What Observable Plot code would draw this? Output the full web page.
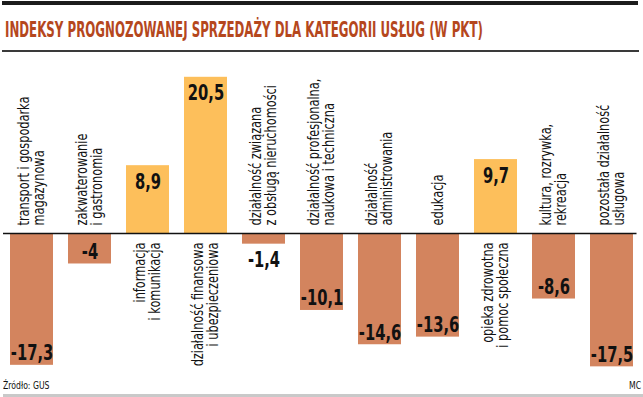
<!DOCTYPE html>
<html>
<head>
<meta charset="utf-8">
<script src="https://cdn.jsdelivr.net/npm/d3@7"></script>
<script src="https://cdn.jsdelivr.net/npm/@observablehq/plot@0.6"></script>
<style>
  html, body { margin: 0; padding: 0; background: #fff; }
  body { width: 643px; height: 397px; position: relative; overflow: hidden;
         font-family: "Liberation Sans Narrow", "DejaVu Sans Condensed", "Liberation Sans", sans-serif; }
  .abs { position: absolute; }
  #topline { left: 2px; top: 1px; width: 636px; height: 4px; background: #1c1c1c; }
  #midline { left: 2px; top: 50px; width: 637px; height: 2px; background: #3a3a3a; }
  #botline { left: 3px; top: 394px; width: 640px; height: 3px; background: #c9c9c9; }
  #title { left: 5px; top: 19px; font-size: 22px; line-height: 22px; font-weight: bold; color: #b5471d;
           white-space: nowrap; transform-origin: 0 0; }
  #chart { left: 0; top: 52px; }
  .foot { position: absolute; top: 380px; font-size: 10px; line-height: 12px; color: #111;
          white-space: nowrap; }
  #source { left: 3px; transform-origin: 0 0; transform: scaleX(0.86); }
  #author { right: 2px; transform-origin: 100% 0; transform: scaleX(0.86); }
</style>
</head>
<body>
<div id="topline" class="abs"></div>
<div id="title" class="abs">INDEKSY PROGNOZOWANEJ SPRZEDAŻY DLA KATEGORII USŁUG (W PKT)</div>
<div id="midline" class="abs"></div>
<div id="chart" class="abs"></div>
<div id="source" class="foot">Źródło: GUS</div>
<div id="author" class="foot">MC</div>
<div id="botline" class="abs"></div>
<script>
const categories = [
  "transport i gospodarka\nmagazynowa",
  "zakwaterowanie\ni gastronomia",
  "informacja\ni komunikacja",
  "działalność finansowa\ni ubezpieczeniowa",
  "działalność związana\nz obsługą nieruchomości",
  "działalność profesjonalna,\nnaukowa i techniczna",
  "działalność\nadministrowania",
  "edukacja",
  "opieka zdrowotna\ni pomoc społeczna",
  "kultura, rozrywka,\nrekreacja",
  "pozostała działalność\nusługowa"
];
const values = [-17.3, -4, 8.9, 20.5, -1.4, -10.1, -14.6, -13.6, 9.7, -8.6, -17.5];
const valueLabels = ["-17,3", "-4", "8,9", "20,5", "-1,4", "-10,1", "-14,6", "-13,6", "9,7", "-8,6", "-17,5"];

const data = categories.map((c, i) => ({cat: c, value: values[i], label: valueLabels[i]}));
const pos = data.filter(d => d.value >= 0);
const neg = data.filter(d => d.value < 0);
const negBig = neg.filter(d => d.value <= -3);
const negSmall = neg.filter(d => d.value > -3);

const FONT = '"Liberation Sans Narrow", "DejaVu Sans Condensed", "Liberation Sans", sans-serif';
const H = 330;
const zeroY = 181, pxPerUnit = 7.62;

const plot = Plot.plot({
  width: 643,
  height: H,
  marginLeft: 7,
  marginRight: 6.5,
  marginTop: 0,
  marginBottom: 0,
  style: {fontFamily: FONT, background: "transparent", overflow: "visible"},
  x: {domain: categories, paddingInner: 0.267, paddingOuter: 0, axis: null},
  y: {domain: [-(H - zeroY) / pxPerUnit, zeroY / pxPerUnit], axis: null},
  marks: [
    Plot.barY(data, {x: "cat", y: "value", fill: d => d.value >= 0 ? "#fdbf5b" : "#d3845e"}),
    Plot.ruleY([0], {stroke: "#111", strokeWidth: 1.5, insetLeft: -4}),
    Plot.text(pos, {x: "cat", y: "value", text: "label", lineAnchor: "top", dy: 8,
      fontSize: 21, fontWeight: "bold", fill: "#111", className: "vlab"}),
    Plot.text(negBig, {x: "cat", y: "value", text: "label", lineAnchor: "bottom", dy: -5,
      fontSize: 21, fontWeight: "bold", fill: "#111", className: "vlab"}),
    Plot.text(negSmall, {x: "cat", y: "value", text: "label", lineAnchor: "bottom", dy: 23,
      fontSize: 21, fontWeight: "bold", fill: "#111", className: "vlab"}),
    Plot.text(neg, {x: "cat", y: () => 0, text: "cat", rotate: -90, textAnchor: "start",
      lineAnchor: "middle", lineHeight: 1, dy: -8, fontSize: 15, fill: "#111", className: "clab"}),
    Plot.text(pos, {x: "cat", y: () => 0, text: "cat", rotate: -90, textAnchor: "end",
      lineAnchor: "middle", lineHeight: 1, dy: 9, fontSize: 15, fill: "#111", className: "clab"})
  ]
});
document.getElementById("chart").appendChild(plot);

// condense glyphs horizontally (along the text direction) to mimic a condensed typeface
function condense(sel, s) {
  plot.querySelectorAll(sel + " text").forEach(el => {
    const tr = el.getAttribute("transform") || "";
    el.setAttribute("transform", tr + ` scale(${s},1)`);
  });
}
condense(".vlab", 0.78);
condense(".clab", 0.84);

const t = document.getElementById("title");
const w = t.getBoundingClientRect().width;
t.style.transform = `scaleX(${478 / w})`;
</script>
</body>
</html>
